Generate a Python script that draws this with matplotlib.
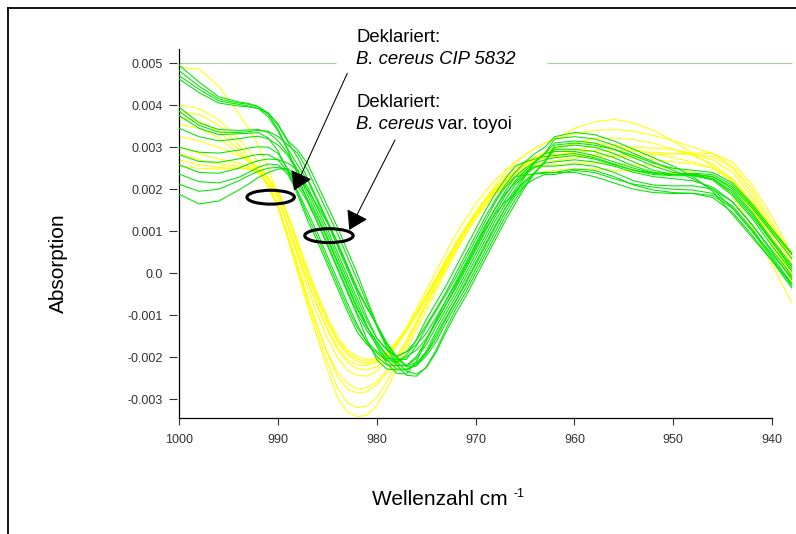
import numpy as np
import matplotlib
matplotlib.use("Agg")
import matplotlib.pyplot as plt
from matplotlib.patches import Ellipse
from matplotlib.lines import Line2D

plt.rcParams['font.family'] = ['Liberation Sans', 'DejaVu Sans']

# wavenumber points (cm-1); spectra values below are absorbance * 1e3
wn = [1000, 998, 996, 994, 993, 992, 991, 990, 989, 988, 987, 986, 985, 984, 983, 982,
      981, 980, 979, 978, 977, 976, 975, 974, 973, 972, 971, 970, 969, 968, 967, 966,
      965, 964, 963, 962, 960, 958, 956, 954, 952, 950, 948, 946, 944, 942, 940, 938]

# Deklariert: B. cereus CIP 5832 (yellow)
yellow_spectra = [
    [4.90, 4.86, 4.45, 3.80, 3.45, 3.05, 2.50, 1.85,
     1.10, 0.38, -0.35, -1.00, -1.55, -2.00, -2.30, -2.43, -2.45, -2.33, -2.08, -1.72, -1.30, -0.85,
     -0.40, 0.05, 0.50, 0.92, 1.30, 1.65, 1.95, 2.22, 2.45, 2.65, 2.82, 2.97, 3.10,
     3.20, 3.45, 3.60, 3.66, 3.58, 3.40, 3.15, 2.85, 2.55, 2.20, 1.70, 1.10, 0.50],
    [4.00, 3.92, 3.65, 3.20, 2.95, 2.65, 2.25, 1.80,
     1.12, 0.45, -0.20, -0.80, -1.32, -1.75, -2.05, -2.18, -2.20, -2.12, -1.93, -1.65, -1.32, -0.95,
     -0.55, -0.13, 0.30, 0.70, 1.08, 1.42, 1.72, 1.98, 2.22, 2.42, 2.60, 2.75, 2.88,
     2.98, 3.08, 3.10, 3.05, 3.00, 2.98, 2.95, 2.85, 2.70, 2.40, 1.80, 1.00, 0.20],
    [3.85, 3.78, 3.52, 3.05, 2.78, 2.45, 2.05, 1.55,
     0.80, 0.00, -0.80, -1.55, -2.30, -2.95, -3.30, -3.41, -3.38, -3.15, -2.75, -2.30, -1.82, -1.35,
     -0.88, -0.42, 0.05, 0.50, 0.92, 1.30, 1.62, 1.92, 2.18, 2.40, 2.58, 2.72, 2.85,
     2.95, 3.10, 3.20, 3.22, 3.18, 3.10, 2.95, 2.80, 2.60, 2.25, 1.60, 0.80, -0.10],
    [3.70, 3.62, 3.38, 2.95, 2.70, 2.42, 2.05, 1.60,
     0.90, 0.15, -0.60, -1.28, -1.88, -2.35, -2.62, -2.75, -2.73, -2.58, -2.32, -1.98, -1.58, -1.15,
     -0.70, -0.25, 0.20, 0.63, 1.02, 1.38, 1.70, 1.98, 2.22, 2.42, 2.58, 2.70, 2.78,
     2.82, 2.88, 2.92, 2.93, 2.90, 2.88, 2.85, 2.82, 2.78, 2.50, 1.90, 1.10, 0.30],
    [3.55, 3.45, 3.22, 2.85, 2.65, 2.45, 2.22, 1.95,
     1.35, 0.68, 0.02, -0.58, -1.12, -1.58, -1.88, -2.04, -2.10, -2.05, -1.88, -1.62, -1.30, -0.92,
     -0.52, -0.10, 0.32, 0.72, 1.10, 1.45, 1.75, 2.00, 2.20, 2.36, 2.48, 2.57, 2.63,
     2.68, 2.75, 2.78, 2.78, 2.75, 2.70, 2.65, 2.60, 2.50, 2.25, 1.70, 0.90, 0.00],
    [3.00, 2.85, 2.72, 2.62, 2.55, 2.42, 2.10, 1.58,
     0.85, 0.08, -0.70, -1.42, -2.12, -2.72, -3.08, -3.20, -3.16, -2.95, -2.58, -2.15, -1.70, -1.22,
     -0.75, -0.28, 0.18, 0.62, 1.04, 1.42, 1.78, 2.10, 2.38, 2.62, 2.82, 2.98, 3.10,
     3.18, 3.32, 3.40, 3.42, 3.38, 3.28, 3.15, 3.00, 2.85, 2.55, 2.00, 1.20, 0.35],
    [2.85, 2.70, 2.60, 2.55, 2.52, 2.45, 2.25, 1.95,
     1.40, 0.75, 0.10, -0.50, -1.05, -1.50, -1.82, -1.98, -2.05, -2.03, -1.90, -1.68, -1.38, -1.00,
     -0.60, -0.18, 0.25, 0.66, 1.03, 1.36, 1.65, 1.88, 2.06, 2.20, 2.30, 2.37, 2.42,
     2.45, 2.48, 2.48, 2.45, 2.42, 2.40, 2.38, 2.35, 2.30, 2.05, 1.50, 0.70, -0.20],
    [2.70, 2.58, 2.52, 2.50, 2.48, 2.38, 2.15, 1.78,
     1.15, 0.48, -0.18, -0.80, -1.35, -1.82, -2.12, -2.27, -2.30, -2.22, -2.02, -1.72, -1.37, -0.98,
     -0.57, -0.14, 0.30, 0.72, 1.10, 1.45, 1.77, 2.05, 2.30, 2.50, 2.65, 2.76, 2.83,
     2.88, 2.95, 3.00, 3.00, 2.95, 2.85, 2.75, 2.65, 2.50, 2.20, 1.55, 0.75, -0.10],
    [2.55, 2.50, 2.48, 2.50, 2.48, 2.40, 2.12, 1.62,
     0.92, 0.18, -0.58, -1.28, -1.92, -2.45, -2.75, -2.85, -2.82, -2.65, -2.38, -2.03, -1.63, -1.20,
     -0.76, -0.32, 0.12, 0.55, 0.95, 1.30, 1.62, 1.90, 2.12, 2.30, 2.42, 2.50, 2.55,
     2.58, 2.62, 2.62, 2.60, 2.58, 2.55, 2.50, 2.40, 2.25, 1.85, 1.10, 0.20, -0.70],
    [3.25, 3.15, 3.00, 2.80, 2.68, 2.52, 2.28, 1.92,
     1.30, 0.62, -0.05, -0.65, -1.18, -1.62, -1.93, -2.10, -2.15, -2.10, -1.94, -1.68, -1.36, -0.98,
     -0.58, -0.15, 0.28, 0.70, 1.08, 1.43, 1.74, 2.00, 2.22, 2.40, 2.55, 2.66, 2.74,
     2.78, 2.82, 2.83, 2.83, 2.82, 2.82, 2.84, 2.86, 2.85, 2.65, 2.10, 1.35, 0.45],
]

# Deklariert: B. cereus var. toyoi (green)
green_spectra = [
    [4.95, 4.55, 4.20, 4.08, 4.04, 3.97, 3.78, 3.42, 2.95,
     2.57, 2.20, 1.70, 1.20, 0.65, 0.10, -0.45, -1.05, -1.55, -1.82, -1.98,
     -1.87, -1.60, -1.23, -0.85, -0.45, 0.00, 0.45, 0.90, 1.35, 1.75, 2.10, 2.40, 2.65, 2.85, 3.00,
     3.25, 3.35, 3.30, 3.15, 2.95, 2.75, 2.55, 2.30, 1.95, 1.40, 0.85, 0.30, -0.25],
    [4.82, 4.45, 4.15, 4.05, 4.02, 3.96, 3.82, 3.55, 3.15,
     2.93, 2.60, 2.10, 1.60, 1.10, 0.55, 0.00, -0.62, -1.22, -1.65, -1.98,
     -2.20, -2.13, -1.90, -1.47, -1.05, -0.65, -0.20, 0.25, 0.70, 1.15, 1.55, 1.90, 2.30, 2.65, 2.85,
     3.20, 3.25, 3.20, 3.05, 2.85, 2.65, 2.45, 2.25, 2.00, 1.55, 1.00, 0.45, -0.10],
    [4.70, 4.38, 4.10, 4.02, 3.98, 3.92, 3.72, 3.38, 2.92,
     2.33, 1.70, 1.20, 0.70, 0.15, -0.40, -0.95, -1.37, -1.70, -2.06, -2.28,
     -2.28, -2.20, -1.91, -1.55, -1.09, -0.65, -0.25, 0.20, 0.65, 1.10, 1.55, 1.95, 2.20, 2.40, 2.65,
     3.05, 3.10, 3.05, 2.95, 2.80, 2.62, 2.50, 2.45, 2.40, 2.15, 1.65, 1.05, 0.48],
    [4.62, 4.30, 4.05, 3.98, 3.96, 3.92, 3.80, 3.52, 3.12,
     2.75, 2.25, 1.75, 1.25, 0.75, 0.20, -0.35, -0.80, -1.25, -1.73, -2.10,
     -2.33, -2.40, -2.25, -1.88, -1.40, -0.95, -0.55, -0.10, 0.35, 0.80, 1.25, 1.65, 2.05, 2.40, 2.65,
     3.00, 3.05, 3.00, 2.85, 2.65, 2.45, 2.35, 2.35, 2.30, 2.05, 1.55, 0.95, 0.35],
    [3.95, 3.58, 3.42, 3.40, 3.41, 3.42, 3.35, 3.15, 2.85,
     2.45, 1.95, 1.45, 0.95, 0.40, -0.15, -0.70, -1.26, -1.75, -2.14, -2.38,
     -2.40, -2.09, -1.60, -1.11, -0.65, -0.25, 0.20, 0.65, 1.10, 1.55, 1.95, 2.30, 2.50, 2.65, 2.85,
     3.10, 3.15, 3.10, 2.95, 2.75, 2.55, 2.40, 2.35, 2.25, 1.90, 1.35, 0.75, 0.15],
    [3.85, 3.52, 3.36, 3.35, 3.37, 3.40, 3.38, 3.25, 3.05,
     2.85, 2.45, 1.95, 1.45, 0.95, 0.40, -0.15, -0.70, -1.27, -1.78, -2.18,
     -2.43, -2.45, -2.23, -1.83, -1.32, -0.85, -0.45, 0.00, 0.45, 0.90, 1.35, 1.75, 2.10, 2.40, 2.65,
     2.95, 2.95, 2.90, 2.75, 2.55, 2.40, 2.35, 2.38, 2.35, 2.10, 1.60, 1.00, 0.45],
    [3.75, 3.45, 3.30, 3.32, 3.33, 3.35, 3.22, 2.90, 2.45,
     2.08, 1.70, 1.20, 0.65, 0.10, -0.45, -0.99, -1.58, -2.06, -2.28, -2.30,
     -2.30, -2.16, -1.85, -1.39, -0.95, -0.55, -0.10, 0.35, 0.80, 1.25, 1.65, 2.00, 2.35, 2.65, 2.85,
     2.90, 2.90, 2.80, 2.65, 2.50, 2.38, 2.35, 2.36, 2.30, 2.00, 1.45, 0.80, 0.20],
    [3.45, 3.25, 3.15, 3.20, 3.24, 3.26, 3.20, 3.05, 2.80,
     2.40, 1.85, 1.35, 0.85, 0.30, -0.25, -0.80, -1.27, -1.65, -1.98, -2.18,
     -2.20, -1.98, -1.60, -1.17, -0.75, -0.35, 0.10, 0.55, 1.00, 1.45, 1.85, 2.20, 2.45, 2.62, 2.70,
     2.75, 2.80, 2.72, 2.58, 2.45, 2.38, 2.35, 2.33, 2.25, 1.95, 1.40, 0.75, 0.10],
    [3.00, 2.88, 2.86, 2.93, 2.98, 3.01, 3.00, 2.85, 2.45,
     1.85, 1.25, 0.75, 0.20, -0.35, -0.90, -1.40, -1.70, -1.90, -2.08, -2.10,
     -1.95, -1.58, -1.10, -0.70, -0.30, 0.15, 0.60, 1.05, 1.50, 1.90, 2.25, 2.55, 2.65, 2.72, 2.78,
     2.80, 2.85, 2.75, 2.60, 2.45, 2.35, 2.32, 2.32, 2.22, 1.85, 1.30, 0.65, 0.05],
    [2.82, 2.66, 2.64, 2.72, 2.78, 2.83, 2.82, 2.70, 2.40,
     1.95, 1.45, 0.95, 0.40, -0.15, -0.70, -1.22, -1.65, -1.98, -2.18, -2.20,
     -2.20, -2.03, -1.70, -1.27, -0.85, -0.45, 0.00, 0.45, 0.90, 1.35, 1.75, 2.10, 2.35, 2.52, 2.62,
     2.65, 2.70, 2.65, 2.55, 2.40, 2.30, 2.25, 2.20, 2.05, 1.70, 1.15, 0.55, -0.05],
    [2.58, 2.40, 2.38, 2.50, 2.60, 2.68, 2.72, 2.70, 2.62,
     2.45, 2.05, 1.55, 1.05, 0.50, -0.05, -0.60, -1.13, -1.55, -1.82, -1.98,
     -1.87, -1.70, -1.43, -1.05, -0.65, -0.20, 0.25, 0.70, 1.15, 1.55, 1.90, 2.15, 2.40, 2.55, 2.55,
     2.55, 2.60, 2.55, 2.40, 2.20, 2.10, 2.08, 2.08, 2.00, 1.70, 1.15, 0.50, -0.15],
    [2.36, 2.18, 2.15, 2.28, 2.40, 2.52, 2.60, 2.58, 2.35,
     1.90, 1.35, 0.85, 0.30, -0.25, -0.80, -1.29, -1.63, -1.86, -2.03, -2.05,
     -2.05, -1.73, -1.28, -0.89, -0.50, -0.10, 0.35, 0.80, 1.25, 1.70, 2.05, 2.30, 2.34, 2.36, 2.38,
     2.40, 2.48, 2.45, 2.30, 2.10, 1.98, 1.92, 1.90, 1.80, 1.45, 0.90, 0.30, -0.35],
    [2.12, 1.95, 2.00, 2.20, 2.32, 2.43, 2.50, 2.52, 2.45,
     2.18, 1.75, 1.30, 0.80, 0.25, -0.30, -0.85, -1.29, -1.63, -1.94, -2.13,
     -1.99, -1.83, -1.56, -1.15, -0.75, -0.30, 0.15, 0.60, 1.05, 1.42, 1.70, 1.90, 2.17, 2.38, 2.40,
     2.40, 2.40, 2.30, 2.15, 2.00, 1.92, 1.90, 1.90, 1.85, 1.55, 1.00, 0.35, -0.30],
    [1.88, 1.65, 1.72, 1.98, 2.12, 2.28, 2.40, 2.48, 2.50,
     2.28, 1.98, 1.60, 1.20, 0.70, 0.15, -0.40, -0.83, -1.23, -1.68, -2.02,
     -2.23, -2.20, -1.97, -1.63, -1.18, -0.75, -0.35, 0.10, 0.55, 1.00, 1.45, 1.85, 2.10, 2.25, 2.35,
     2.35, 2.45, 2.40, 2.25, 2.12, 2.05, 2.00, 1.98, 1.90, 1.60, 1.05, 0.40, -0.25],
]

ytick_vals = [-0.003, -0.002, -0.001, 0.0, 0.001, 0.002, 0.003, 0.004, 0.005]
ytick_text = ["-0.003", "-0.002", "-0.001", "0.0", "0.001", "0.002", "0.003", "0.004", "0.005"]
xtick_vals = [1000, 990, 980, 970, 960, 950, 940]

YELLOW = '#ffff00'
GREEN = '#00e600'
W, H = 796, 534

fig = plt.figure(figsize=(W / 100, H / 100), dpi=100)
ax = fig.add_axes([179.3 / W, 1 - 418.3 / H, (772 - 179.3) / W, (418.3 - 49.3) / H])

# reference line at 0.005, broken where the first label sits
ax.hlines(0.005, 1000, 984.1, color='#a9c7a0', lw=0.8, zorder=1)
ax.hlines(0.005, 962.8, 938, color='#a9c7a0', lw=0.8, zorder=1, clip_on=False)

for s in yellow_spectra:
    ax.plot(wn, np.array(s) * 1e-3, color=YELLOW, lw=0.75, clip_on=False, zorder=2)
for s in green_spectra:
    ax.plot(wn, np.array(s) * 1e-3, color=GREEN, lw=0.75, clip_on=False, zorder=3)

ax.set_xlim(1000, 940)
ax.set_ylim(-3.452e-3, 5.33e-3)
ax.set_xticks(xtick_vals)
ax.set_xticklabels([str(v) for v in xtick_vals])
ax.set_yticks(ytick_vals)
ax.set_yticklabels(ytick_text)

for side in ['top', 'right']:
    ax.spines[side].set_visible(False)
ax.spines['bottom'].set_linewidth(0.9)
# y ticks sit a little apart from the axis line
ax.spines['left'].set_position(('outward', 1.7))
ax.spines['left'].set_visible(False)
ax.plot([0, 0], [0, 1], transform=ax.transAxes, color='black', lw=0.9, clip_on=False)

ax.tick_params(axis='y', length=5.8, width=0.8, color='#333333', pad=4.1,
               labelsize=9, labelcolor='#333333')
ax.tick_params(axis='x', length=5.3, width=0.8, color='#333333', pad=6,
               labelsize=9, labelcolor='#333333')

# axis titles
fig.text(58 / W, 1 - 263.3 / H, "Absorption", rotation=90, ha='center', va='center', fontsize=15)
fig.text(371.7 / W, 1 - 505 / H, "Wellenzahl cm", ha='left', va='baseline', fontsize=15)
fig.text(513.3 / W, 1 - 497.3 / H, "-1", ha='left', va='baseline', fontsize=9)

# annotations
fs = 13.3
fig.text(356.5 / W, 1 - 42.3 / H, "Deklariert:", va='baseline', fontsize=fs)
fig.text(356.5 / W, 1 - 64 / H, "B. cereus CIP 5832", va='baseline', fontsize=fs, style='italic')
fig.text(356.5 / W, 1 - 107.3 / H, "Deklariert:", va='baseline', fontsize=fs)
fig.text(356.5 / W, 1 - 129 / H, "B. cereus", va='baseline', fontsize=fs, style='italic')
fig.text(437.5 / W, 1 - 129 / H, "var. toyoi", va='baseline', fontsize=fs)

arrow = dict(arrowstyle='-|>,head_length=1.15,head_width=0.72', mutation_scale=10,
             color='black', lw=0.75, shrinkA=0, shrinkB=0)
ax.annotate('', xy=(988.39, 1.967e-3), xytext=(347.3, H - 73.3),
            textcoords='figure pixels', arrowprops=arrow, zorder=6)
ax.annotate('', xy=(982.79, 1.031e-3), xytext=(395, H - 140),
            textcoords='figure pixels', arrowprops=arrow, zorder=6)

ax.add_patch(Ellipse((990.75, 1.81e-3), 4.8, 0.33e-3, fill=False, lw=2.2,
                     ec='black', clip_on=False, zorder=5))
ax.add_patch(Ellipse((984.85, 0.895e-3), 4.9, 0.33e-3, fill=False, lw=2.2,
                     ec='black', clip_on=False, zorder=5))

# outer frame (cut by the image edge at right and bottom)
fx, fy = 8.2 / W, 1 - 8.2 / H
fig.add_artist(Line2D([fx, fx], [0, fy], transform=fig.transFigure, color='black', lw=1.3))
fig.add_artist(Line2D([fx, 1], [fy, fy], transform=fig.transFigure, color='black', lw=1.3))

fig.savefig("out.png", dpi=100)
